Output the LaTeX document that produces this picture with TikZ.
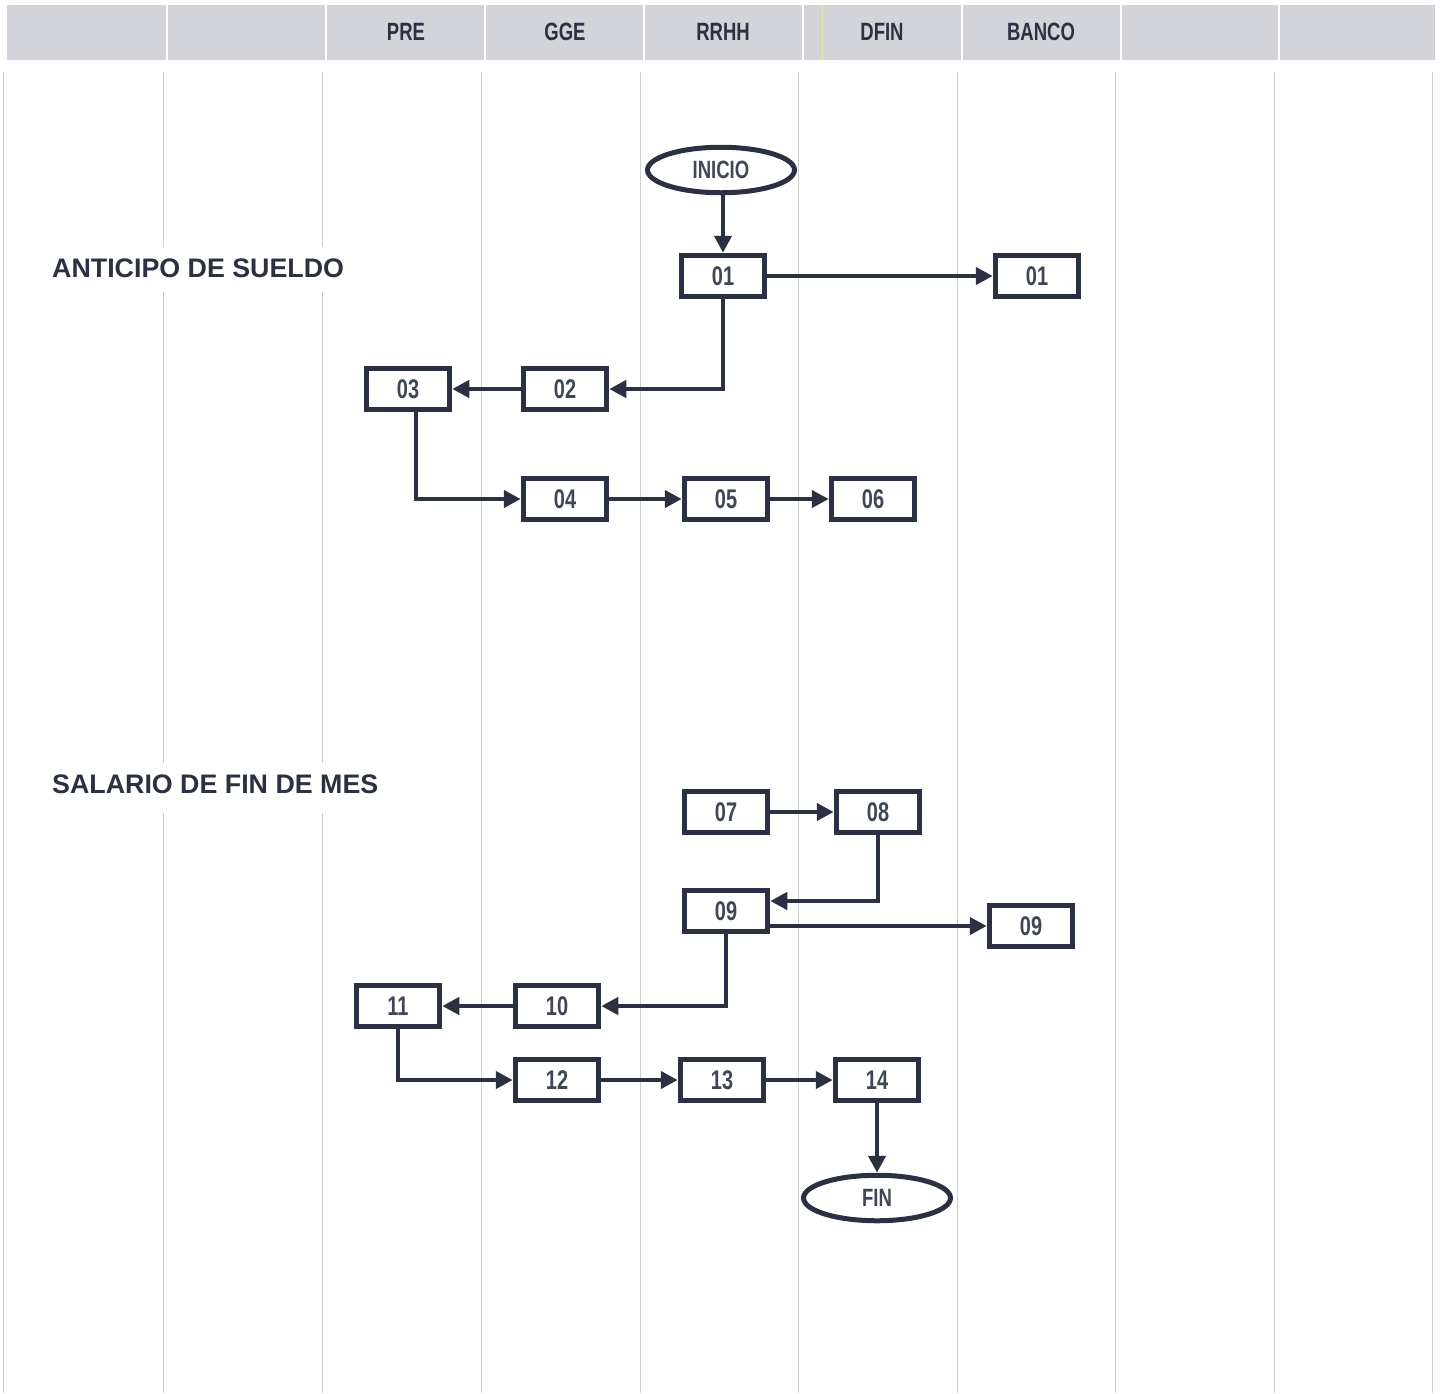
\documentclass[tikz,border=0pt]{standalone}
\usepackage{fontspec}
\setmainfont{Liberation Sans}
\newfontfamily\narrowfont[FakeStretch=0.74]{Liberation Sans}
\usetikzlibrary{arrows.meta,shapes.geometric}
\definecolor{ink}{HTML}{2B3142}
\definecolor{headbg}{HTML}{D2D4DA}
\definecolor{gridc}{HTML}{CDCDD2}
\tikzset{
  box/.style={draw=ink,line width=5pt,fill=white,minimum width=83.5pt,minimum height=41.5pt,inner sep=0pt,
    font=\narrowfont\bfseries\fontsize{27}{30}\selectfont,text=ink!90},
  term/.style={ellipse,draw=ink,line width=5pt,fill=white,minimum width=147pt,minimum height=45.5pt,inner sep=0pt,
    font=\narrowfont\bfseries\fontsize{25}{30}\selectfont,text=ink!90},
  conn/.style={draw=ink,line width=4.4pt,-{Triangle[length=17pt,width=17pt]}},
  head/.style={font=\narrowfont\bfseries\fontsize{25}{30}\selectfont,text=ink},
  titletext/.style={font=\bfseries\fontsize{26.8}{30}\selectfont,text=ink,inner sep=4pt,anchor=west},
  gridline/.style={draw=gridc,line width=1pt}
}
\begin{document}
\begin{tikzpicture}[x=1pt,y=-1pt]
\useasboundingbox (0,0) rectangle (1442,1393);
\fill[white] (0,0) rectangle (1442,1393);
% header
\fill[headbg] (7,5) rectangle (1435,60);
\foreach \x in {167,326,485,644,803,962,1121,1279}
  \draw[white,line width=1.2pt] (\x,5) -- (\x,60);
\draw[yellow!60!gray!50,line width=1pt] (822,5) -- (822,60);
\node[head] (hpre) at (406,32) {PRE};
\node[head] (hgge) at (565,32) {GGE};
\node[head] (hrrhh) at (723,32) {RRHH};
\node[head] (hdfin) at (882,32) {DFIN};
\node[head] (hbanco) at (1041,32) {BANCO};
% body grid
\foreach \x in {3,481,640,798,957,1115,1274,1432}
  \draw[gridline] (\x,72) -- (\x,1393);
\foreach \x in {163,322}{
  \draw[gridline] (\x,72) -- (\x,247);
  \draw[gridline] (\x,292) -- (\x,763);
  \draw[gridline] (\x,813) -- (\x,1393);
}
% titles
\node[titletext] (t1) at (48,268) {ANTICIPO DE SUELDO};
\node[titletext] (t2) at (48,784) {SALARIO DE FIN DE MES};
% nodes
\node[term] (inicio) at (721,170) {INICIO};
\node[box] (b01) at (723,276) {01};
\node[box] (b01r) at (1037,276) {01};
\node[box] (b02) at (565,389) {02};
\node[box] (b03) at (408,389) {03};
\node[box] (b04) at (565,499) {04};
\node[box] (b05) at (726,499) {05};
\node[box] (b06) at (873,499) {06};
\node[box] (b07) at (726,812) {07};
\node[box] (b08) at (878,812) {08};
\node[box] (b09) at (726,911) {09};
\node[box] (b09r) at (1031,926) {09};
\node[box] (b10) at (557,1006) {10};
\node[box] (b11) at (398,1006) {11};
\node[box] (b12) at (557,1080) {12};
\node[box] (b13) at (722,1080) {13};
\node[box] (b14) at (877,1080) {14};
\node[term] (fin) at (877,1198) {FIN};
% connectors
\draw[conn] (inicio.south -| b01.north) -- (b01.north);
\draw[conn] (b01) -- (b01r);
\draw[conn] (b01.south) |- (b02);
\draw[conn] (b02) -- (b03);
\draw[conn] ([xshift=8pt]b03.south) |- (b04);
\draw[conn] (b04) -- (b05);
\draw[conn] (b05) -- (b06);
\draw[conn] (b07) -- (b08);
\draw[conn] (b08.south) |- ([yshift=10pt]b09.east);
\draw[conn] (b09.east |- b09r.west) -- (b09r.west);
\draw[conn] (b09.south) |- (b10);
\draw[conn] (b10) -- (b11);
\draw[conn] (b11.south) |- (b12);
\draw[conn] (b12) -- (b13);
\draw[conn] (b13) -- (b14);
\draw[conn] (b14) -- (fin);
\end{tikzpicture}
\end{document}
